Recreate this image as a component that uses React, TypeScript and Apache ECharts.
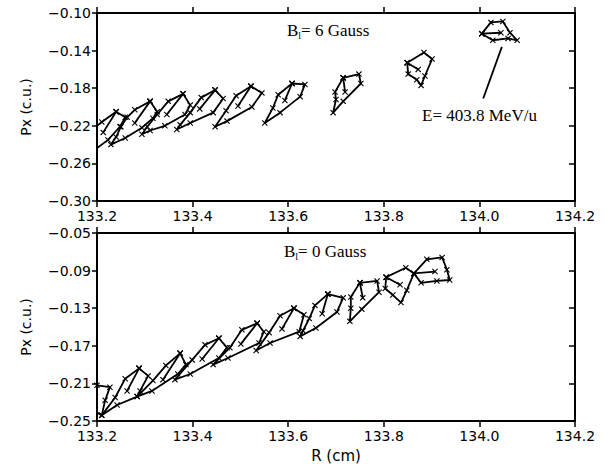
import React, { useEffect, useRef } from "react";
import * as echarts from "echarts";

// ---- axis ticks ----
const xTicks = [133.2, 133.4, 133.6, 133.8, 134.0, 134.2];
const topYTicks = [-0.3, -0.26, -0.22, -0.18, -0.14, -0.1];
const botYTicks = [-0.25, -0.21, -0.17, -0.13, -0.09, -0.05];

// ---- top panel (Bl = 6 Gauss): closed loops (R in cm, Px in c.u.) ----
const topLoopR: number[][] = [
  [133.240, 133.259, 133.248, 133.223, 133.181, 133.185, 133.210],
  [133.311, 133.326, 133.317, 133.294, 133.259, 133.229, 133.240, 133.250, 133.263, 133.279],
  [133.380, 133.395, 133.384, 133.342, 133.311, 133.294, 133.305, 133.326, 133.349],
  [133.447, 133.464, 133.443, 133.395, 133.367, 133.374, 133.395, 133.418],
  [133.522, 133.545, 133.524, 133.472, 133.447, 133.470, 133.491],
  [133.608, 133.635, 133.625, 133.583, 133.551, 133.568, 133.579],
  [133.715, 133.748, 133.752, 133.715, 133.694, 133.700, 133.698],
  [133.849, 133.884, 133.901, 133.886, 133.878, 133.869, 133.851],
  [134.005, 134.024, 134.049, 134.064, 134.079, 134.060, 134.028],
];
const topLoopPx: number[][] = [
  [-0.205, -0.211, -0.221, -0.235, -0.251, -0.226, -0.216],
  [-0.194, -0.205, -0.212, -0.222, -0.233, -0.240, -0.232, -0.221, -0.211, -0.203],
  [-0.186, -0.198, -0.208, -0.220, -0.225, -0.229, -0.221, -0.208, -0.194],
  [-0.182, -0.191, -0.206, -0.217, -0.224, -0.219, -0.206, -0.190],
  [-0.178, -0.185, -0.200, -0.215, -0.221, -0.204, -0.188],
  [-0.175, -0.176, -0.189, -0.206, -0.217, -0.201, -0.187],
  [-0.169, -0.165, -0.175, -0.194, -0.206, -0.192, -0.184],
  [-0.153, -0.142, -0.149, -0.167, -0.177, -0.171, -0.165],
  [-0.122, -0.110, -0.109, -0.121, -0.129, -0.127, -0.129],
];
const topTailR: number[][] = [
  [133.240, 133.213], [133.311, 133.279], [133.380, 133.346], [133.447, 133.415],
  [133.522, 133.495], [133.608, 133.593], [133.715, 133.719], [133.849, 133.872],
  [134.005, 134.045],
];
const topTailPx: number[][] = [
  [-0.205, -0.227], [-0.194, -0.217], [-0.186, -0.208], [-0.182, -0.202],
  [-0.178, -0.199], [-0.175, -0.193], [-0.169, -0.184], [-0.153, -0.160],
  [-0.122, -0.121],
];
const pointerR = [134.047, 134.008];
const pointerPx = [-0.136, -0.191];

// ---- bottom panel (Bl = 0 Gauss) ----
const botLoopR: number[][] = [
  [133.181, 133.200, 133.227, 133.217, 133.210, 133.181],
  [133.288, 133.307, 133.290, 133.284, 133.242, 133.210, 133.238, 133.259],
  [133.374, 133.386, 133.369, 133.315, 133.284, 133.317, 133.344],
  [133.455, 133.472, 133.455, 133.395, 133.363, 133.399, 133.426],
  [133.535, 133.549, 133.539, 133.474, 133.443, 133.478, 133.503],
  [133.612, 133.633, 133.623, 133.562, 133.533, 133.560, 133.583],
  [133.683, 133.715, 133.702, 133.658, 133.625, 133.631, 133.644, 133.656],
  [133.750, 133.786, 133.790, 133.754, 133.729, 133.731, 133.731],
  [133.805, 133.846, 133.863, 133.848, 133.836, 133.819, 133.803],
  [133.863, 133.890, 133.922, 133.932, 133.938, 133.911, 133.878],
];
const botLoopPx: number[][] = [
  [-0.207, -0.212, -0.214, -0.228, -0.244, -0.235],
  [-0.194, -0.202, -0.218, -0.224, -0.233, -0.244, -0.225, -0.205],
  [-0.178, -0.190, -0.200, -0.218, -0.224, -0.207, -0.191],
  [-0.162, -0.172, -0.183, -0.200, -0.206, -0.185, -0.169],
  [-0.146, -0.155, -0.167, -0.183, -0.190, -0.172, -0.153],
  [-0.130, -0.137, -0.155, -0.167, -0.175, -0.156, -0.138],
  [-0.115, -0.119, -0.134, -0.151, -0.160, -0.154, -0.141, -0.127],
  [-0.103, -0.101, -0.113, -0.131, -0.144, -0.130, -0.118],
  [-0.097, -0.087, -0.093, -0.111, -0.124, -0.116, -0.109],
  [-0.093, -0.078, -0.076, -0.089, -0.100, -0.101, -0.103],
];
const botTailR: number[][] = [
  [], [133.288, 133.263], [133.374, 133.338], [133.455, 133.420], [133.535, 133.501],
  [133.612, 133.587], [133.683, 133.671], [133.750, 133.756], [133.805, 133.834],
  [133.863, 133.907],
];
const botTailPx: number[][] = [
  [], [-0.194, -0.218], [-0.178, -0.206], [-0.162, -0.184], [-0.146, -0.168],
  [-0.130, -0.152], [-0.115, -0.136], [-0.103, -0.119], [-0.097, -0.105],
  [-0.093, -0.091],
];

const XMARK =
  "path://M0,1.3L1.3,0L5,3.7L8.7,0L10,1.3L6.3,5L10,8.7L8.7,10L5,6.3L1.3,10L0,8.7L3.7,5Z";

const pairs = (xs: number[], ys: number[]) => xs.map((x, i) => [x, ys[i]]);

function lineSeries(data: number[][], gi: number, marks = true) {
  return {
    type: "line",
    xAxisIndex: gi * 2,
    yAxisIndex: gi * 2,
    data,
    symbol: marks ? XMARK : "none",
    symbolSize: 6,
    showSymbol: marks,
    clip: true,
    silent: true,
    lineStyle: { color: "#000", width: 1.8 },
    itemStyle: { color: "#000" },
  };
}

const FONT = "DejaVu Sans";

function xAxes(gi: number) {
  return [
    {
      type: "value",
      gridIndex: gi,
      min: 133.2,
      max: 134.2,
      position: "bottom",
      axisLine: { show: true, lineStyle: { color: "#000", width: 2 } },
      axisTick: { show: true, inside: false, length: 6, lineStyle: { color: "#000", width: 1.5 }, customValues: xTicks },
      axisLabel: {
        show: true, customValues: xTicks, color: "#000", fontFamily: FONT, fontSize: 14, margin: 8,
        lineHeight: 14,
        formatter: (v: number) => v.toFixed(1),
      },
      splitLine: { show: false },
      name: gi === 1 ? "R (cm)" : "",
      nameLocation: "middle",
      nameGap: 27,
      nameTextStyle: { color: "#000", fontFamily: FONT, fontSize: 15 },
    },
    {
      type: "value",
      gridIndex: gi,
      min: 133.2,
      max: 134.2,
      position: "top",
      axisLine: { show: true, lineStyle: { color: "#000", width: 2 } },
      axisTick: { show: true, inside: false, length: 6, lineStyle: { color: "#000", width: 1.5 }, customValues: xTicks },
      axisLabel: { show: false },
      splitLine: { show: false },
    },
  ];
}

function yAxes(gi: number, min: number, max: number, ticks: number[]) {
  return [
    {
      type: "value",
      gridIndex: gi,
      min,
      max,
      position: "left",
      axisLine: { show: true, lineStyle: { color: "#000", width: 2 } },
      axisTick: { show: true, inside: false, length: 5, lineStyle: { color: "#000", width: 1.5 }, customValues: ticks },
      axisLabel: {
        show: true, customValues: ticks, color: "#000", fontFamily: FONT, fontSize: 14, margin: 6,
        lineHeight: 14,
        formatter: (v: number) => "\u2212" + Math.abs(v).toFixed(2),
      },
      splitLine: { show: false },
      name: "Px (c.u.)",
      nameLocation: "middle",
      nameGap: 64,
      nameRotate: 90,
      nameTextStyle: { color: "#000", fontFamily: FONT, fontSize: 14 },
    },
    {
      type: "value",
      gridIndex: gi,
      min,
      max,
      position: "right",
      axisLine: { show: true, lineStyle: { color: "#000", width: 2 } },
      axisTick: { show: true, inside: true, length: 6, lineStyle: { color: "#000", width: 1.5 }, customValues: ticks },
      axisLabel: { show: false },
      splitLine: { show: false },
    },
  ];
}

function gaussLabel(x: number, y: number, val: string) {
  return {
    type: "text",
    left: x,
    top: y,
    style: {
      text: "{b|B}{s|l}{b|= " + val + " Gauss}",
      rich: {
        b: { fontFamily: "Liberation Serif", fontSize: 17, fill: "#000", verticalAlign: "bottom" },
        s: { fontFamily: "Liberation Serif", fontSize: 10, fill: "#000", verticalAlign: "bottom", padding: [0, 0, -1, 0] },
      },
    },
  };
}

export default function App() {
  const ref = useRef<HTMLDivElement>(null);
  useEffect(() => {
    if (!ref.current) return;
    const chart = echarts.init(ref.current, undefined, { renderer: "svg" });
    const series: any[] = [];
    topLoopR.forEach((xs, i) => {
      const pts = pairs(xs, topLoopPx[i]);
      series.push(lineSeries([...pts, pts[0]], 0));
      series.push(lineSeries(pairs(topTailR[i], topTailPx[i]), 0));
    });
    series.push(lineSeries(pairs(pointerR, pointerPx), 0, false));
    botLoopR.forEach((xs, i) => {
      const pts = pairs(xs, botLoopPx[i]);
      series.push(lineSeries([...pts, pts[0]], 1));
      if (botTailR[i].length) series.push(lineSeries(pairs(botTailR[i], botTailPx[i]), 1));
    });
    chart.setOption({
      animation: false,
      backgroundColor: "#fff",
      grid: [
        { left: 97, top: 13, width: 478, height: 188 },
        { left: 97, top: 233, width: 478, height: 188 },
      ],
      xAxis: [...xAxes(0), ...xAxes(1)],
      yAxis: [...yAxes(0, -0.3, -0.1, topYTicks), ...yAxes(1, -0.25, -0.05, botYTicks)],
      series,
      graphic: [
        gaussLabel(287, 22, "6"),
        gaussLabel(284, 243, "0"),
        {
          type: "text",
          left: 422,
          top: 107,
          style: { text: "E= 403.8 MeV/u", fontFamily: "Liberation Serif", fontSize: 17, fill: "#000" },
        },
      ],
    });
    return () => chart.dispose();
  }, []);
  return (
    <div
      ref={ref}
      style={{ position: "fixed", left: 0, top: 0, width: 607, height: 464, background: "#fff" }}
    />
  );
}
